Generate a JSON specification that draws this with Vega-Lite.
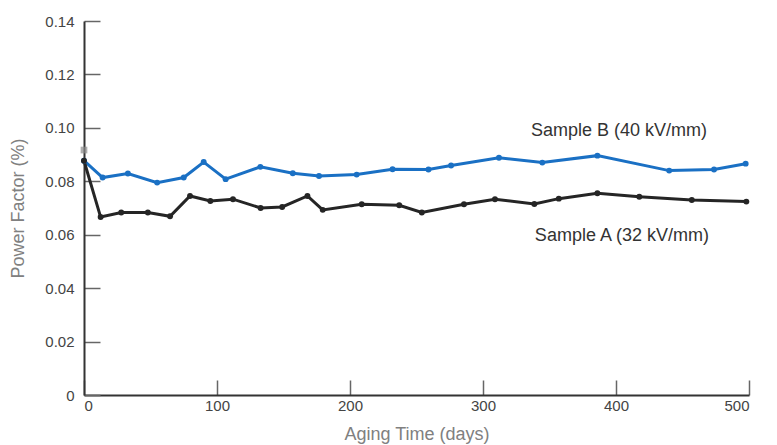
{
  "$schema": "https://vega.github.io/schema/vega-lite/v6.json",
  "width": 665,
  "height": 374,
  "autosize": "none",
  "padding": {"left": 84, "top": 21, "right": 28, "bottom": 50},
  "background": "white",
  "config": {
    "view": {"stroke": null},
    "font": "Liberation Sans",
    "axis": {
      "grid": false,
      "domainColor": "#333333",
      "domainWidth": 2,
      "tickColor": "#666666",
      "tickWidth": 1.5,
      "labelColor": "#444444",
      "labelFontSize": 15,
      "titleColor": "#808080",
      "titleFontSize": 18,
      "titleFontWeight": "normal"
    }
  },
  "datasets": {
    "series": [
      {"series": "B", "day": 0, "pf": 0.0877},
      {"series": "B", "day": 14, "pf": 0.0814},
      {"series": "B", "day": 33, "pf": 0.0829},
      {"series": "B", "day": 55, "pf": 0.0795},
      {"series": "B", "day": 75, "pf": 0.0814},
      {"series": "B", "day": 90, "pf": 0.0872},
      {"series": "B", "day": 106.5, "pf": 0.0808},
      {"series": "B", "day": 132.6, "pf": 0.0854},
      {"series": "B", "day": 157, "pf": 0.083},
      {"series": "B", "day": 176.7, "pf": 0.082},
      {"series": "B", "day": 205, "pf": 0.0825},
      {"series": "B", "day": 232, "pf": 0.0845},
      {"series": "B", "day": 259, "pf": 0.0844},
      {"series": "B", "day": 276, "pf": 0.0859},
      {"series": "B", "day": 312, "pf": 0.0888},
      {"series": "B", "day": 344.6, "pf": 0.087},
      {"series": "B", "day": 386, "pf": 0.0896},
      {"series": "B", "day": 440, "pf": 0.084},
      {"series": "B", "day": 473.7, "pf": 0.0844},
      {"series": "B", "day": 497.5, "pf": 0.0866},
      {"series": "A", "day": 0, "pf": 0.0877},
      {"series": "A", "day": 12.5, "pf": 0.0666},
      {"series": "A", "day": 28, "pf": 0.0683},
      {"series": "A", "day": 48, "pf": 0.0683},
      {"series": "A", "day": 64.7, "pf": 0.0669},
      {"series": "A", "day": 79.7, "pf": 0.0745},
      {"series": "A", "day": 95, "pf": 0.0726},
      {"series": "A", "day": 112, "pf": 0.0733},
      {"series": "A", "day": 132.8, "pf": 0.07},
      {"series": "A", "day": 149, "pf": 0.0704},
      {"series": "A", "day": 168, "pf": 0.0745},
      {"series": "A", "day": 179.5, "pf": 0.0693},
      {"series": "A", "day": 208.8, "pf": 0.0714},
      {"series": "A", "day": 237, "pf": 0.071},
      {"series": "A", "day": 254, "pf": 0.0683},
      {"series": "A", "day": 285.7, "pf": 0.0714},
      {"series": "A", "day": 309, "pf": 0.0733},
      {"series": "A", "day": 338.6, "pf": 0.0715},
      {"series": "A", "day": 357, "pf": 0.0735},
      {"series": "A", "day": 386, "pf": 0.0755},
      {"series": "A", "day": 417.5, "pf": 0.0742},
      {"series": "A", "day": 457, "pf": 0.073},
      {"series": "A", "day": 498, "pf": 0.0724}
    ],
    "initial": [{"day": 0, "pf": 0.0917}],
    "labels": [
      {"day": 336, "pf": 0.0988, "text": "Sample B (40 kV/mm)"},
      {"day": 339, "pf": 0.0595, "text": "Sample A (32 kV/mm)"}
    ]
  },
  "layer": [
    {
      "data": {"name": "initial"},
      "mark": {"type": "point", "shape": "square", "filled": true, "color": "#8a8a8a", "size": 45},
      "encoding": {
        "x": {"field": "day", "type": "quantitative"},
        "y": {"field": "pf", "type": "quantitative"}
      }
    },
    {
      "data": {"name": "series"},
      "mark": {"type": "line", "strokeWidth": 3, "point": {"filled": true, "size": 35}},
      "encoding": {
        "x": {
          "field": "day", "type": "quantitative",
          "scale": {"domain": [0, 500], "nice": false},
          "axis": {"title": "Aging Time (days)", "values": [0, 100, 200, 300, 400, 500], "tickSize": -15, "labelPadding": 18, "titlePadding": 12}
        },
        "y": {
          "field": "pf", "type": "quantitative",
          "scale": {"domain": [0, 0.14], "nice": false, "zero": true},
          "axis": {"title": "Power Factor (%)", "values": [0, 0.02, 0.04, 0.06, 0.08, 0.1, 0.12, 0.14], "labelExpr": "datum.value === 0 ? '0' : format(datum.value, '.2f')", "tickSize": -16, "labelPadding": 26, "titlePadding": 17}
        },
        "color": {
          "field": "series", "type": "nominal",
          "scale": {"domain": ["A", "B"], "range": ["#252525", "#1a70c4"]},
          "legend": null
        },
        "detail": {"field": "series"}
      }
    },
    {
      "data": {"name": "labels"},
      "mark": {"type": "text", "align": "left", "baseline": "middle", "fontSize": 18, "color": "#333333"},
      "encoding": {
        "x": {"field": "day", "type": "quantitative"},
        "y": {"field": "pf", "type": "quantitative"},
        "text": {"field": "text"}
      }
    }
  ]
}
